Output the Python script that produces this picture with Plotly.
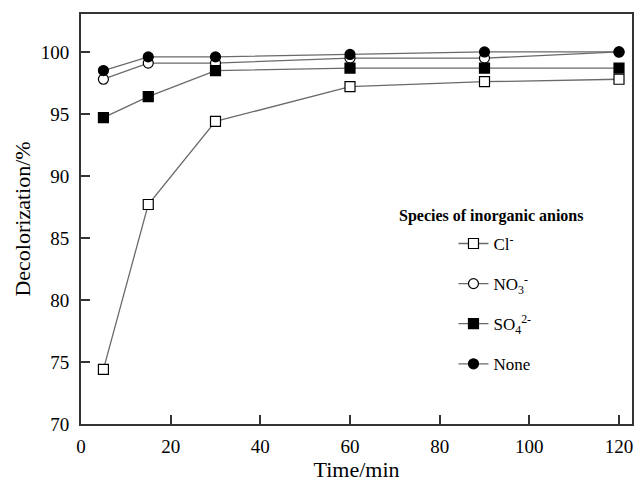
import plotly.graph_objects as go

time = [5, 15, 30, 60, 90, 120]
cl = [74.4, 87.7, 94.4, 97.2, 97.6, 97.8]
no3 = [97.8, 99.1, 99.1, 99.5, 99.5, 100.0]
so4 = [94.7, 96.4, 98.5, 98.7, 98.7, 98.7]
none_ = [98.5, 99.6, 99.6, 99.8, 100.0, 100.0]

series = [
    ("Cl<sup>-</sup>", cl, "square", "white"),
    ("NO<sub>3</sub><sup>-</sup>", no3, "circle", "white"),
    ("SO<sub>4</sub><sup>2-</sup>", so4, "square", "black"),
    ("None", none_, "circle", "black"),
]

fig = go.Figure()
for i, (name, vals, sym, fill) in enumerate(series):
    fig.add_trace(go.Scatter(
        x=time, y=vals, name=name, mode="lines+markers", legendgroup=str(i),
        line=dict(color="#6a6a6a", width=1.3),
        marker=dict(symbol=sym, size=10, color=fill, line=dict(color="black", width=1.2)),
    ))

font = "Liberation Serif, Times New Roman, serif"
fig.add_annotation(
    text="<b>Species of inorganic anions</b>", xref="paper", yref="paper",
    x=0.745, y=0.507, xanchor="center", yanchor="middle", showarrow=False,
    font=dict(size=16, family=font, color="black"),
)
fig.update_layout(
    width=636, height=482,
    margin=dict(l=81, r=4, t=14, b=58),
    paper_bgcolor="white", plot_bgcolor="white",
    font=dict(family=font, color="black", size=19),
    showlegend=True,
    legend=dict(
        x=0.676, y=0.483, xanchor="left", yanchor="top",
        font=dict(size=17), tracegroupgap=15, bgcolor="rgba(0,0,0,0)",
    ),
    xaxis=dict(
        range=[0, 122.9], tickvals=[0, 20, 40, 60, 80, 100, 120],
        ticks="inside", ticklen=9, tickwidth=1.5, tickcolor="#333333",
        ticklabelstandoff=4,
        showline=True, linecolor="#333333", linewidth=2, mirror=True,
        showgrid=False, zeroline=False, automargin=False,
        title=dict(text="Time/min", font=dict(size=22), standoff=4),
    ),
    yaxis=dict(
        range=[70, 103.06], tickvals=[70, 75, 80, 85, 90, 95, 100],
        ticks="inside", ticklen=9, tickwidth=1.5, tickcolor="#333333",
        ticklabelstandoff=6,
        showline=True, linecolor="#333333", linewidth=2, mirror=True,
        showgrid=False, zeroline=False, automargin=False,
        title=dict(text="Decolorization/%", font=dict(size=22), standoff=4),
    ),
)
fig.write_html(
    "out.html",
    config={"displayModeBar": False},
    post_script="document.body.style.margin='0';document.body.style.overflow='hidden';",
)
